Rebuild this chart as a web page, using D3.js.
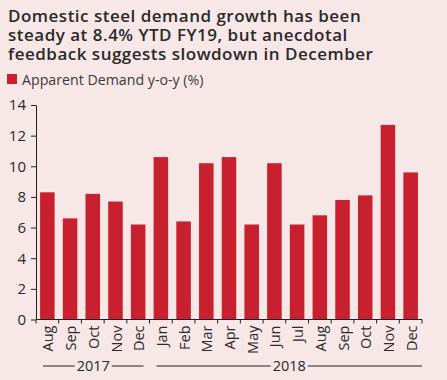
<!DOCTYPE html>
<html>
<head>
<meta charset="utf-8">
<script src="https://cdn.jsdelivr.net/npm/d3@7/dist/d3.min.js"></script>
<style>
  html, body { margin: 0; padding: 0; background: #f8e7e7; }
  svg { display: block; }
</style>
</head>
<body>
<svg id="chart" width="447" height="380"></svg>
<script>
const months = ["Aug","Sep","Oct","Nov","Dec","Jan","Feb","Mar","Apr","May","Jun","Jul","Aug","Sep","Oct","Nov","Dec"];
const years = ["2017","2017","2017","2017","2017","2018","2018","2018","2018","2018","2018","2018","2018","2018","2018","2018","2018"];
const demand = [8.3, 6.6, 8.2, 7.7, 6.2, 10.6, 6.4, 10.2, 10.6, 6.2, 10.2, 6.2, 6.8, 7.8, 8.1, 12.7, 9.6];
const yTicks = [0, 2, 4, 6, 8, 10, 12, 14];
const titleLines = [
  "Domestic steel demand growth has been",
  "steady at 8.4% YTD FY19, but anecdotal",
  "feedback suggests slowdown in December"
];
const legendLabel = "Apparent Demand y-o-y (%)";

const W = 447, H = 380;
const barColor = "#c8202e";
const textColor = "#2a2a2a";
const svg = d3.select("#chart");
svg.append("rect").attr("width", W).attr("height", H).attr("fill", "#f8e7e7");

// Title
titleLines.forEach((t, i) => {
  svg.append("text")
    .attr("x", 8).attr("y", 22 + i * 19)
    .attr("font-family", "'Open Sans', sans-serif")
    .attr("font-weight", 600)
    .attr("font-size", 17)
    .attr("letter-spacing", 0.5)
    .attr("fill", textColor)
    .text(t);
});

// Legend
svg.append("rect").attr("x", 7).attr("y", 74).attr("width", 10).attr("height", 10).attr("fill", barColor);
svg.append("text")
  .attr("x", 22).attr("y", 85)
  .attr("font-family", "'Open Sans', sans-serif")
  .attr("font-size", 14.2)
  .attr("fill", "#3a3a3a")
  .text(legendLabel);

// Scales
const x0 = 36, x1 = 422, yBottom = 319.5, yTop = 105;
const idx = months.map((m, i) => i);
const x = d3.scaleBand().domain(idx).range([x0, x1]).paddingInner(0.36).paddingOuter(0.18);
const y = d3.scaleLinear().domain([0, 14]).range([yBottom, yTop]);

// Bars
svg.append("g").selectAll("rect").data(demand).join("rect")
  .attr("x", (d, i) => x(i))
  .attr("width", x.bandwidth())
  .attr("y", d => y(d))
  .attr("height", d => y(0) - y(d))
  .attr("fill", barColor);

// Y axis
const yAxis = svg.append("g").attr("transform", `translate(${x0},0)`)
  .call(d3.axisLeft(y).tickValues(yTicks).tickSize(5).tickSizeOuter(0).tickPadding(5));
yAxis.select(".domain").attr("stroke", "#222");
yAxis.selectAll(".tick line").attr("stroke", "#222");
yAxis.selectAll("text")
  .attr("font-family", "'Open Sans', sans-serif")
  .attr("font-size", 15)
  .attr("fill", textColor);

// X axis baseline and boundary ticks
const step = x.step();
const boundaries = d3.range(months.length + 1).map(i => x0 + i * step);
svg.append("line").attr("x1", x0).attr("x2", x1).attr("y1", y(0)).attr("y2", y(0)).attr("stroke", "#222");
svg.append("g").selectAll("line").data(boundaries).join("line")
  .attr("x1", d => d).attr("x2", d => d)
  .attr("y1", y(0)).attr("y2", y(0) + 4)
  .attr("stroke", "#222");

// Month labels
svg.append("g").selectAll("text").data(months).join("text")
  .attr("transform", (d, i) => `translate(${x(i) + x.bandwidth() / 2 + 1},${y(0) + 6}) rotate(-90)`)
  .attr("text-anchor", "end")
  .attr("dy", "0.35em")
  .attr("font-family", "'Open Sans', sans-serif")
  .attr("font-size", 14.5)
  .attr("fill", textColor)
  .text(d => d);

// Year group labels
const groups = d3.groups(idx, i => years[i]).map(([yr, is]) => ({ yr, first: is[0], last: is[is.length - 1] }));
const yearY = 366;
groups.forEach((g, gi) => {
  const start = x0 + g.first * step + 7;
  const end = x0 + (g.last + 1) * step - (gi === groups.length - 1 ? 0 : 6);
  const mid = (start + end) / 2;
  const t = svg.append("text")
    .attr("x", mid).attr("y", yearY + 5)
    .attr("text-anchor", "middle")
    .attr("font-family", "'Open Sans', sans-serif")
    .attr("font-size", 14.5)
    .attr("fill", textColor)
    .text(g.yr);
  const tw = t.node().getComputedTextLength();
  svg.append("line").attr("x1", start).attr("x2", mid - tw / 2 - 2)
    .attr("y1", yearY).attr("y2", yearY).attr("stroke", "#222");
  svg.append("line").attr("x1", mid + tw / 2 + 2).attr("x2", end)
    .attr("y1", yearY).attr("y2", yearY).attr("stroke", "#222");
});
</script>
</body>
</html>
